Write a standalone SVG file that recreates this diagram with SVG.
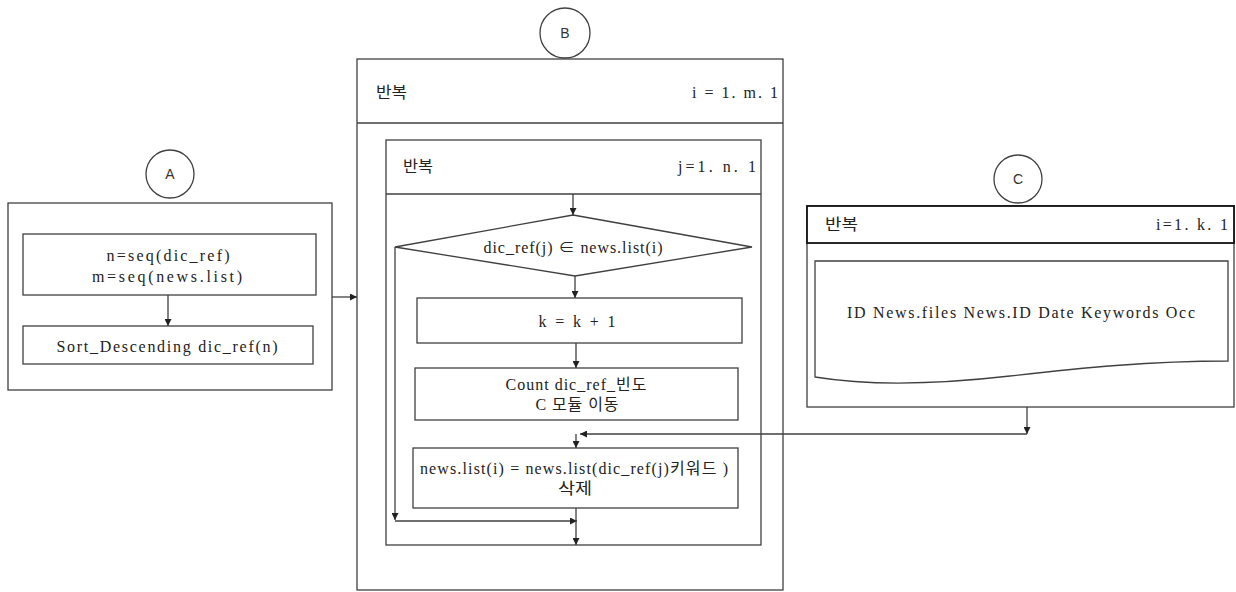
<svg xmlns="http://www.w3.org/2000/svg" width="1236" height="592" viewBox="0 0 1236 592">
<style>
.b{fill:#fff;stroke:#404040;stroke-width:1.3}
.ln{fill:none;stroke:#404040;stroke-width:1.3}
.t{font-family:"Liberation Serif","Noto Sans CJK KR",serif;font-size:16px;fill:#222;text-anchor:middle;dominant-baseline:central}
.l{text-anchor:start}
.r{text-anchor:end}
.c{font-family:"Liberation Sans",sans-serif;font-size:14px;fill:#333;text-anchor:middle;dominant-baseline:central}
</style>
<defs>
<marker id="ah" markerUnits="userSpaceOnUse" markerWidth="8" markerHeight="7" refX="7" refY="3.5" orient="auto">
<path d="M0,0 L7,3.5 L0,7 Z" fill="#222"/>
</marker>
</defs>
<rect width="1236" height="592" fill="#fff"/>

<g id="moduleA">
<circle class="b" cx="170" cy="174" r="24"/>
<text class="c" x="170" y="174">A</text>
<rect class="b" x="8" y="203" width="324" height="187"/>
</g>
<g id="initBox">
<rect class="b" x="23" y="234" width="293" height="61"/>
<text class="t" x="168" y="255" textLength="123" lengthAdjust="spacing">n=seq(dic_ref)</text>
<text class="t" x="167" y="276" textLength="150" lengthAdjust="spacing">m=seq(news.list)</text>
</g>
<g id="sortBox">
<rect class="b" x="23" y="326" width="290" height="38"/>
<text class="t" x="167" y="346" textLength="221" lengthAdjust="spacing">Sort_Descending dic_ref(n)</text>
</g>

<g id="moduleB">
<circle class="b" cx="565" cy="33" r="25"/>
<text class="c" x="565" y="33">B</text>
<rect class="b" x="357" y="59" width="426" height="531"/>
<line class="ln" x1="357" y1="123" x2="783" y2="123"/>
<text class="t l" x="376" y="92" textLength="31" lengthAdjust="spacingAndGlyphs">반복</text>
<text class="t r" x="778" y="92" textLength="86" lengthAdjust="spacing">i = 1. m. 1</text>
</g>
<g id="innerLoop">
<rect class="b" x="386" y="140" width="375" height="405"/>
<line class="ln" x1="386" y1="194" x2="761" y2="194"/>
<text class="t l" x="403" y="166" textLength="30" lengthAdjust="spacingAndGlyphs">반복</text>
<text class="t r" x="756" y="166" textLength="78" lengthAdjust="spacing">j=1. n. 1</text>
</g>
<g id="decision">
<polygon class="b" points="573,215 752,247 575,276 395,247"/>
<text class="t" x="573" y="247" textLength="179" lengthAdjust="spacing">dic_ref(j) ∈ news.list(i)</text>
</g>
<g id="kBox">
<rect class="b" x="417" y="298" width="325" height="45"/>
<text class="t" x="577" y="321" textLength="77" lengthAdjust="spacing">k = k + 1</text>
</g>
<g id="countBox">
<rect class="b" x="415" y="368" width="323" height="52"/>
<text class="t" x="576" y="384" textLength="141" lengthAdjust="spacing">Count dic_ref_빈도</text>
<text class="t" x="577" y="404" textLength="83" lengthAdjust="spacing">C 모듈 이동</text>
</g>
<g id="deleteBox">
<rect class="b" x="413" y="448" width="325" height="60"/>
<text class="t" x="574" y="468" textLength="308" lengthAdjust="spacing">news.list(i) = news.list(dic_ref(j)키워드 )</text>
<text class="t" x="575" y="488" textLength="34" lengthAdjust="spacingAndGlyphs">삭제</text>
</g>

<g id="moduleC">
<circle class="b" cx="1018" cy="179" r="24"/>
<text class="c" x="1018" y="179" font-size="13">C</text>
<rect class="b" x="807" y="206" width="427" height="201"/>
<rect x="807" y="206" width="427" height="37" fill="#fff" stroke="#111" stroke-width="1.8"/>
<text class="t l" x="825" y="224" textLength="33" lengthAdjust="spacingAndGlyphs">반복</text>
<text class="t r" x="1228" y="224" textLength="72" lengthAdjust="spacing">i=1. k. 1</text>
</g>
<g id="outputDoc">
<path class="b" d="M815,261 H1228 V361 C1150,361 1080,368 1010,376 C940,384 870,386 815,377 Z"/>
<text class="t" x="1021" y="312" textLength="348" lengthAdjust="spacing">ID News.files News.ID Date Keywords Occ</text>
</g>

<g id="connectors">
<path class="ln" d="M168,295 V326" marker-end="url(#ah)"/>
<path class="ln" d="M332,297 H357" marker-end="url(#ah)"/>
<path class="ln" d="M573,194 V215" marker-end="url(#ah)"/>
<path class="ln" d="M575,276 V298" marker-end="url(#ah)"/>
<path class="ln" d="M576,343 V368" marker-end="url(#ah)"/>
<path class="ln" d="M1027,407 V434" marker-end="url(#ah)"/>
<path class="ln" d="M1027,434 H580" marker-end="url(#ah)"/>
<path class="ln" d="M576,434 V448" marker-end="url(#ah)"/>
<path class="ln" d="M395,247 V520" marker-end="url(#ah)"/>
<path class="ln" d="M395,521 H577" marker-end="url(#ah)"/>
<path class="ln" d="M576,508 V545" marker-end="url(#ah)"/>
</g>
</svg>
